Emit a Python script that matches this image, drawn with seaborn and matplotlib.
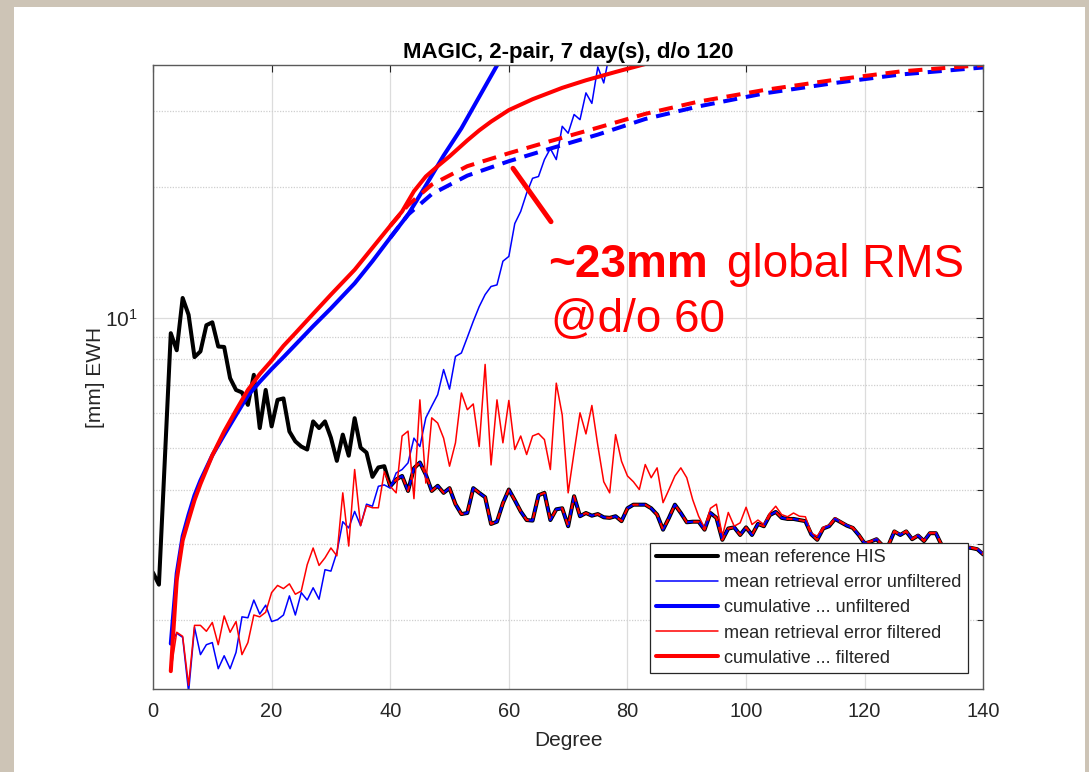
import numpy as np
import matplotlib
matplotlib.use("Agg")
import matplotlib.pyplot as plt
from matplotlib.lines import Line2D
from matplotlib.patches import Rectangle
from matplotlib.ticker import FixedLocator, FixedFormatter, NullFormatter
import seaborn as sns

# ---------------------------------------------------------------- data
degree_ref = np.arange(0, 141)
ref_his = [
    2.57, 2.41, 4.70, 9.20, 8.40, 11.10, 10.15, 8.10, 8.35, 9.60,
    9.75, 8.57, 8.55, 7.24, 6.80, 6.71, 6.28, 7.37, 5.55, 6.80,
    5.60, 6.45, 6.50, 5.45, 5.17, 5.03, 4.95, 5.75, 5.55, 5.75,
    5.27, 4.66, 5.36, 4.79, 5.85, 5.00, 4.87, 4.28, 4.50, 4.53,
    4.07, 4.22, 4.30, 3.97, 4.48, 4.62, 4.33, 3.97, 4.08, 3.93,
    4.03, 3.70, 3.51, 3.53, 4.03, 3.93, 3.84, 3.33, 3.37, 3.72,
    4.00, 3.78, 3.56, 3.40, 3.39, 3.88, 3.93, 3.40, 3.60, 3.62,
    3.29, 3.86, 3.47, 3.53, 3.48, 3.51, 3.45, 3.44, 3.47, 3.38,
    3.62, 3.69, 3.69, 3.69, 3.62, 3.50, 3.23, 3.44, 3.69, 3.53,
    3.36, 3.37, 3.37, 3.23, 3.53, 3.44, 3.06, 3.25, 3.27, 3.14,
    3.27, 3.14, 3.33, 3.29, 3.49, 3.55, 3.44, 3.42, 3.42, 3.40,
    3.38, 3.15, 3.06, 3.25, 3.29, 3.42, 3.36, 3.30, 3.26, 3.14,
    3.00, 3.03, 3.07, 2.97, 2.97, 3.20, 3.14, 3.20, 3.07, 3.13,
    3.04, 3.17, 3.17, 2.97, 2.95, 2.95, 2.94, 2.94, 2.93, 2.91,
    2.83,
]

degree_filt = np.arange(3, 141)
err_filtered = [
    1.52, 1.87, 1.83, 1.41, 1.94, 1.94, 1.88,
    1.97, 1.75, 2.04, 1.87, 1.98, 1.66, 1.77, 2.05, 2.03, 2.08,
    2.31, 2.40, 2.36, 2.42, 2.29, 2.33, 2.68, 2.93, 2.67, 2.78,
    2.93, 2.81, 3.93, 2.96, 4.45, 3.30, 3.67, 3.63, 3.63, 4.40,
    4.07, 3.93, 5.32, 5.46, 3.81, 6.45, 4.14, 5.86, 5.70, 5.26,
    4.53, 5.13, 6.69, 6.12, 6.31, 5.03, 7.79, 4.56, 6.45, 5.13,
    6.43, 4.95, 5.32, 4.82, 5.32, 5.39, 5.22, 4.45, 7.05, 5.95,
    3.93, 4.88, 6.02, 5.38, 6.26, 5.06, 4.17, 3.93, 5.36, 4.65,
    4.30, 4.17, 4.00, 4.57, 4.26, 4.49, 3.73, 4.00, 4.30, 4.49,
    4.26, 3.79, 3.47, 3.26, 3.62, 3.70, 3.12, 3.54, 3.29, 3.35,
    3.64, 3.32, 3.40, 3.32, 3.53, 3.66, 3.50, 3.46, 3.53, 3.47,
    3.46, 3.17, 3.12, 3.27, 3.31, 3.44, 3.37, 3.31, 3.27, 3.15,
    3.01, 3.04, 3.08, 2.98, 2.98, 3.21, 3.15, 3.21, 3.08, 3.14,
    3.05, 3.18, 3.18, 2.98, 2.96, 2.96, 2.95, 2.95, 2.94, 2.92,
    2.84,
]

degree_unf = np.arange(3, 79)
err_unfiltered = [
    1.76, 1.86, 1.82, 1.36, 1.92, 1.66, 1.75,
    1.77, 1.54, 1.65, 1.54, 1.68, 2.03, 2.02, 2.22, 2.06, 2.16,
    1.98, 2.00, 2.05, 2.27, 2.05, 2.31, 2.22, 2.37, 2.23, 2.61,
    2.59, 2.86, 3.37, 3.26, 3.56, 3.30, 3.70, 3.66, 4.07, 4.10,
    4.03, 4.37, 4.45, 4.61, 5.26, 5.03, 5.86, 6.24, 6.63, 7.58,
    6.83, 8.13, 8.28, 9.00, 9.80, 10.6, 11.3, 11.8, 11.9, 13.5,
    13.85, 16.5, 17.6, 19.4, 21.0, 21.2, 23.2, 24.6, 23.2, 27.7,
    26.7, 29.5, 28.7, 33.1, 31.3, 38.0, 34.9, 41.0, 43.0,
]

cum_unf_deg = [3, 4, 5, 6, 7, 8, 10, 12, 14, 16, 18, 20, 22, 24, 27, 30,
               34, 37, 40, 43, 46, 49, 52, 55, 58, 59]
cum_unf = [1.76, 2.56, 3.12, 3.50, 3.88, 4.20, 4.80, 5.35, 5.95, 6.60,
           7.10, 7.60, 8.10, 8.65, 9.55, 10.5, 12.0, 13.5, 15.3, 17.3,
           20.2, 23.7, 27.4, 32.4, 38.3, 40.5]

cum_filt_deg = [3, 4, 5, 6, 7, 8, 10, 12, 14, 16, 18, 20, 22, 24, 27, 30,
                34, 37, 40, 42, 44, 46, 48, 50, 53, 55, 57, 60, 64, 69,
                73, 78, 83]
cum_filt = [1.52, 2.47, 3.05, 3.40, 3.78, 4.12, 4.80, 5.45, 6.10, 6.80,
            7.40, 7.95, 8.60, 9.20, 10.2, 11.3, 12.9, 14.5, 16.3, 17.6,
            19.6, 21.2, 22.4, 23.6, 25.7, 27.1, 28.4, 30.2, 32.0, 34.0,
            35.4, 37.0, 38.6]

# cumulative RMS once the error is capped by the signal
cum_unf_cap_deg = [40, 43, 47, 53, 60, 67, 75, 83, 92, 103, 115, 126, 140]
cum_unf_cap = [15.3, 17.3, 19.3, 21.3, 23.0, 24.6, 26.5, 28.8, 30.8, 33.0,
               34.9, 36.5, 37.9]
cum_filt_cap_deg = [40, 43, 47, 53, 60, 67, 75, 83, 92, 103, 115, 126, 140]
cum_filt_cap = [16.3, 18.2, 20.3, 22.4, 24.0, 25.6, 27.5, 29.6, 31.6, 33.6,
                35.5, 37.1, 38.4]

# degree from which the mean error is capped by the reference signal
cap_start = 40

title = "MAGIC, 2-pair, 7 day(s), d/o 120"
legend_labels = [
    "mean reference HIS",
    "mean retrieval error unfiltered",
    "cumulative ... unfiltered",
    "mean retrieval error filtered",
    "cumulative ... filtered",
]
x_ticks = [0, 20, 40, 60, 80, 100, 120, 140]
y_major = [10]
y_minor = [2, 3, 4, 5, 6, 7, 8, 9, 20, 30]
rms_value = 23
rms_degree = 60

# ---------------------------------------------------------------- style
sns.set_theme(style="white")
plt.rcParams["font.family"] = ["Liberation Sans", "DejaVu Sans"]
plt.rcParams["mathtext.fontset"] = "custom"
plt.rcParams["mathtext.rm"] = "Liberation Sans"

BLUE = "#0000ff"
RED = "#ff0000"
AXC = "#262626"

W, H = 1089, 772
fig = plt.figure(figsize=(W / 100, H / 100), dpi=100)
fig.patch.set_facecolor("#cdc4b6")
fig.add_artist(Rectangle((14 / W, 0), (1085 - 14) / W, (H - 7) / H,
                         transform=fig.transFigure, facecolor="white",
                         edgecolor="none", zorder=0))

ax = fig.add_axes([153 / W, 1 - 689.3 / H, 830.3 / W, (689.3 - 65) / H])
ax.set_facecolor("white")

thick = 2.9
thin = 1.1

sns.lineplot(x=degree_ref, y=ref_his, color="black", linewidth=thick, ax=ax)
sns.lineplot(x=degree_unf, y=err_unfiltered, color=BLUE, linewidth=thin, ax=ax)
sns.lineplot(x=cum_unf_deg, y=cum_unf, color=BLUE, linewidth=thick, ax=ax)
sns.lineplot(x=degree_filt, y=err_filtered, color=RED, linewidth=thin, ax=ax)
sns.lineplot(x=cum_filt_deg, y=cum_filt, color=RED, linewidth=thick, ax=ax)

# capped curves (dashed)
sns.lineplot(x=cum_unf_cap_deg, y=cum_unf_cap, color=BLUE, linewidth=thick,
             linestyle=(0, (3.5, 2.2)), ax=ax)
sns.lineplot(x=cum_filt_cap_deg, y=cum_filt_cap, color=RED, linewidth=thick,
             linestyle=(0, (3.5, 2.2)), ax=ax)
ref_arr = np.asarray(ref_his)
mask = degree_ref >= cap_start
sns.lineplot(x=degree_ref[mask], y=ref_arr[mask], color=BLUE, linewidth=1.5,
             linestyle=(0, (3, 3)), ax=ax)
sns.lineplot(x=degree_ref[mask], y=ref_arr[mask], color=RED, linewidth=1.5,
             linestyle=(3, (3, 3)), ax=ax)

ax.set_yscale("log")
ax.set_xlim(0, 140)
ax.set_ylim(1.38, 38.4)

ax.xaxis.set_major_locator(FixedLocator(x_ticks))
ax.yaxis.set_major_locator(FixedLocator(y_major))
ax.yaxis.set_major_formatter(FixedFormatter([r"$\mathdefault{10^{1}}$"]))
ax.yaxis.set_minor_locator(FixedLocator(y_minor))
ax.yaxis.set_minor_formatter(NullFormatter())
ax.xaxis.set_minor_locator(FixedLocator([]))

ax.tick_params(axis="both", which="both", direction="in", top=True,
               right=True, color=AXC, width=0.8)
ax.tick_params(axis="x", which="major", length=5, pad=9, labelsize=14.4,
               labelcolor=AXC)
ax.tick_params(axis="y", which="major", length=5, pad=11, labelsize=15,
               labelcolor=AXC)
ax.tick_params(axis="y", which="minor", length=4.5)

ax.set_axisbelow(True)
ax.grid(True, which="major", axis="both", color="#dcdcdc", linewidth=0.9)
ax.grid(True, which="minor", axis="y", color="#cfcfcf", linewidth=0.9,
        linestyle=(0, (1, 1.2)))
for sp in ax.spines.values():
    sp.set_color("#5a5a5a")
    sp.set_linewidth(1.0)

ax.set_xlabel("Degree", fontsize=15, color=AXC, labelpad=7)
ax.set_ylabel("[mm] EWH", fontsize=15, color=AXC, labelpad=0)
ax.set_title(title, fontsize=16, fontweight="bold", color="black", pad=5)

handles = [
    Line2D([], [], color="black", linewidth=thick),
    Line2D([], [], color=BLUE, linewidth=thin),
    Line2D([], [], color=BLUE, linewidth=thick),
    Line2D([], [], color=RED, linewidth=thin),
    Line2D([], [], color=RED, linewidth=thick),
]
leg = ax.legend(handles, legend_labels, loc="lower right",
                bbox_to_anchor=(0.981, 0.026), borderaxespad=0,
                fontsize=13.1, handlelength=3.4, handletextpad=0.3,
                labelspacing=0.45, borderpad=0.35, fancybox=False,
                framealpha=1, edgecolor=AXC)
leg.get_frame().set_linewidth(0.9)
for t in leg.get_texts():
    t.set_color(AXC)

# annotation of the capped RMS
fig.text(548 / W, 1 - 276.7 / H, f"~{rms_value}mm", color=RED, fontsize=33,
         fontweight="bold", va="baseline", ha="left")
fig.text(727 / W, 1 - 276.7 / H, "global RMS", color=RED, fontsize=33,
         va="baseline", ha="left")
fig.text(551 / W, 1 - 331.7 / H, f"@d/o {rms_degree}", color=RED, fontsize=33,
         va="baseline", ha="left")
fig.add_artist(Line2D([513 / W, 551 / W], [1 - 168.3 / H, 1 - 221.7 / H],
                      transform=fig.transFigure, color=RED, linewidth=3.6))

fig.savefig("out.png", dpi=100, facecolor=fig.get_facecolor())
